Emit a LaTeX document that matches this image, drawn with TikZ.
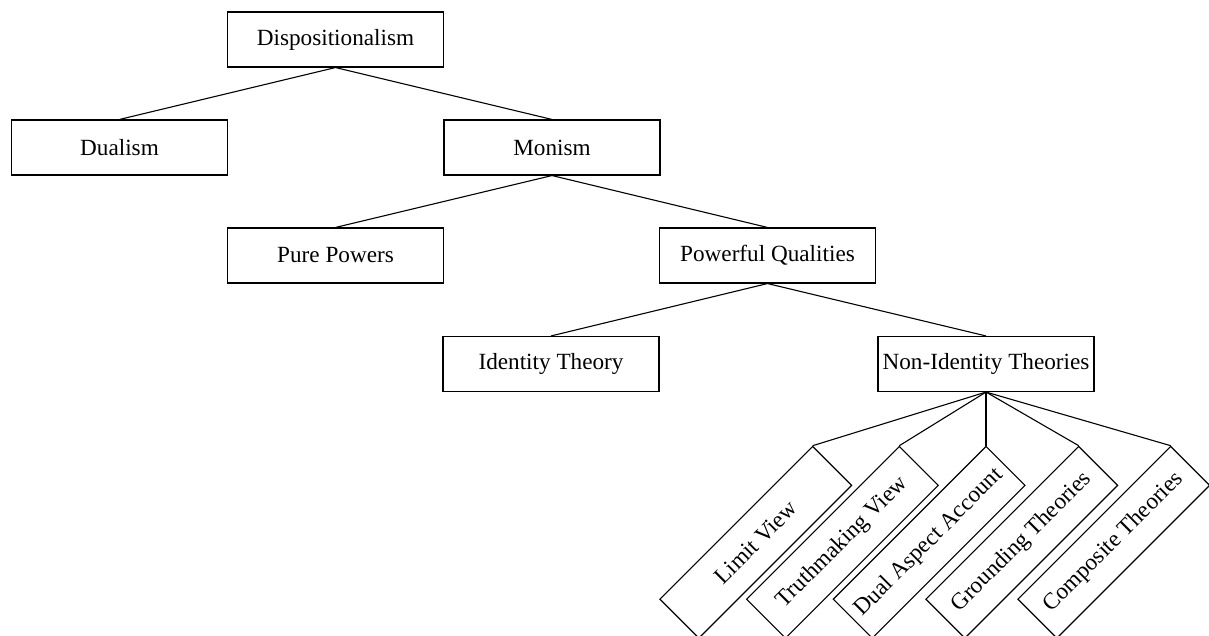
\documentclass[tikz,border=0pt]{standalone}
\usepackage{fontspec}
\setmainfont{Liberation Serif}
\usepackage{tikz}
\usetikzlibrary{positioning}
\tikzset{box/.style={draw, rectangle, line width=0.55pt, minimum width=108pt, minimum height=27.5pt, inner sep=1pt, font=\fontsize{11.6}{14}\selectfont}, tilted/.style={box, rotate=45, anchor=north east}, branch/.style={line width=0.55pt}}

\begin{document}
\begin{tikzpicture}[x=0.5pt, y=-0.5pt]
  \useasboundingbox (0,0) rectangle (1209,636);

  % top levels
  \node[box] (disp) at (335.5, 39.5) {Dispositionalism};
  \node[box] (dual) at (119.5, 147.5) {Dualism};
  \node[box] (mon) at (552, 147.5) {Monism};
  \node[box] (pure) at (335.5, 255.5) {Pure Powers};
  \node[box] (powq) at (767.5, 255.5) {Powerful Qualities};
  \node[box] (ident) at (551, 364) {Identity Theory};
  \node[box] (nonid) at (986, 364) {Non-Identity Theories};

  % tilted leaves
  \node[tilted] (limit) at (812.7, 445.7) {Limit View};
  \node[tilted] (truth) at (899.3, 445.7) {Truthmaking View};
  \node[tilted] (dualasp) at (986, 445.7) {Dual Aspect Account};
  \node[tilted] (ground) at (1078.7, 445.7) {Grounding Theories};
  \node[tilted] (comp) at (1170.7, 445.7) {Composite Theories};

  % branches
  \draw[branch] (disp.south) -- (dual.north);
  \draw[branch] (disp.south) -- (mon.north);
  \draw[branch] (mon.south) -- (pure.north);
  \draw[branch] (mon.south) -- (powq.north);
  \draw[branch] (powq.south) -- (ident.north);
  \draw[branch] (powq.south) -- (nonid.north);
  \foreach \leaf in {limit, truth, dualasp, ground, comp}
    \draw[branch] (nonid.south) -- (\leaf.north east);

\end{tikzpicture}
\end{document}
